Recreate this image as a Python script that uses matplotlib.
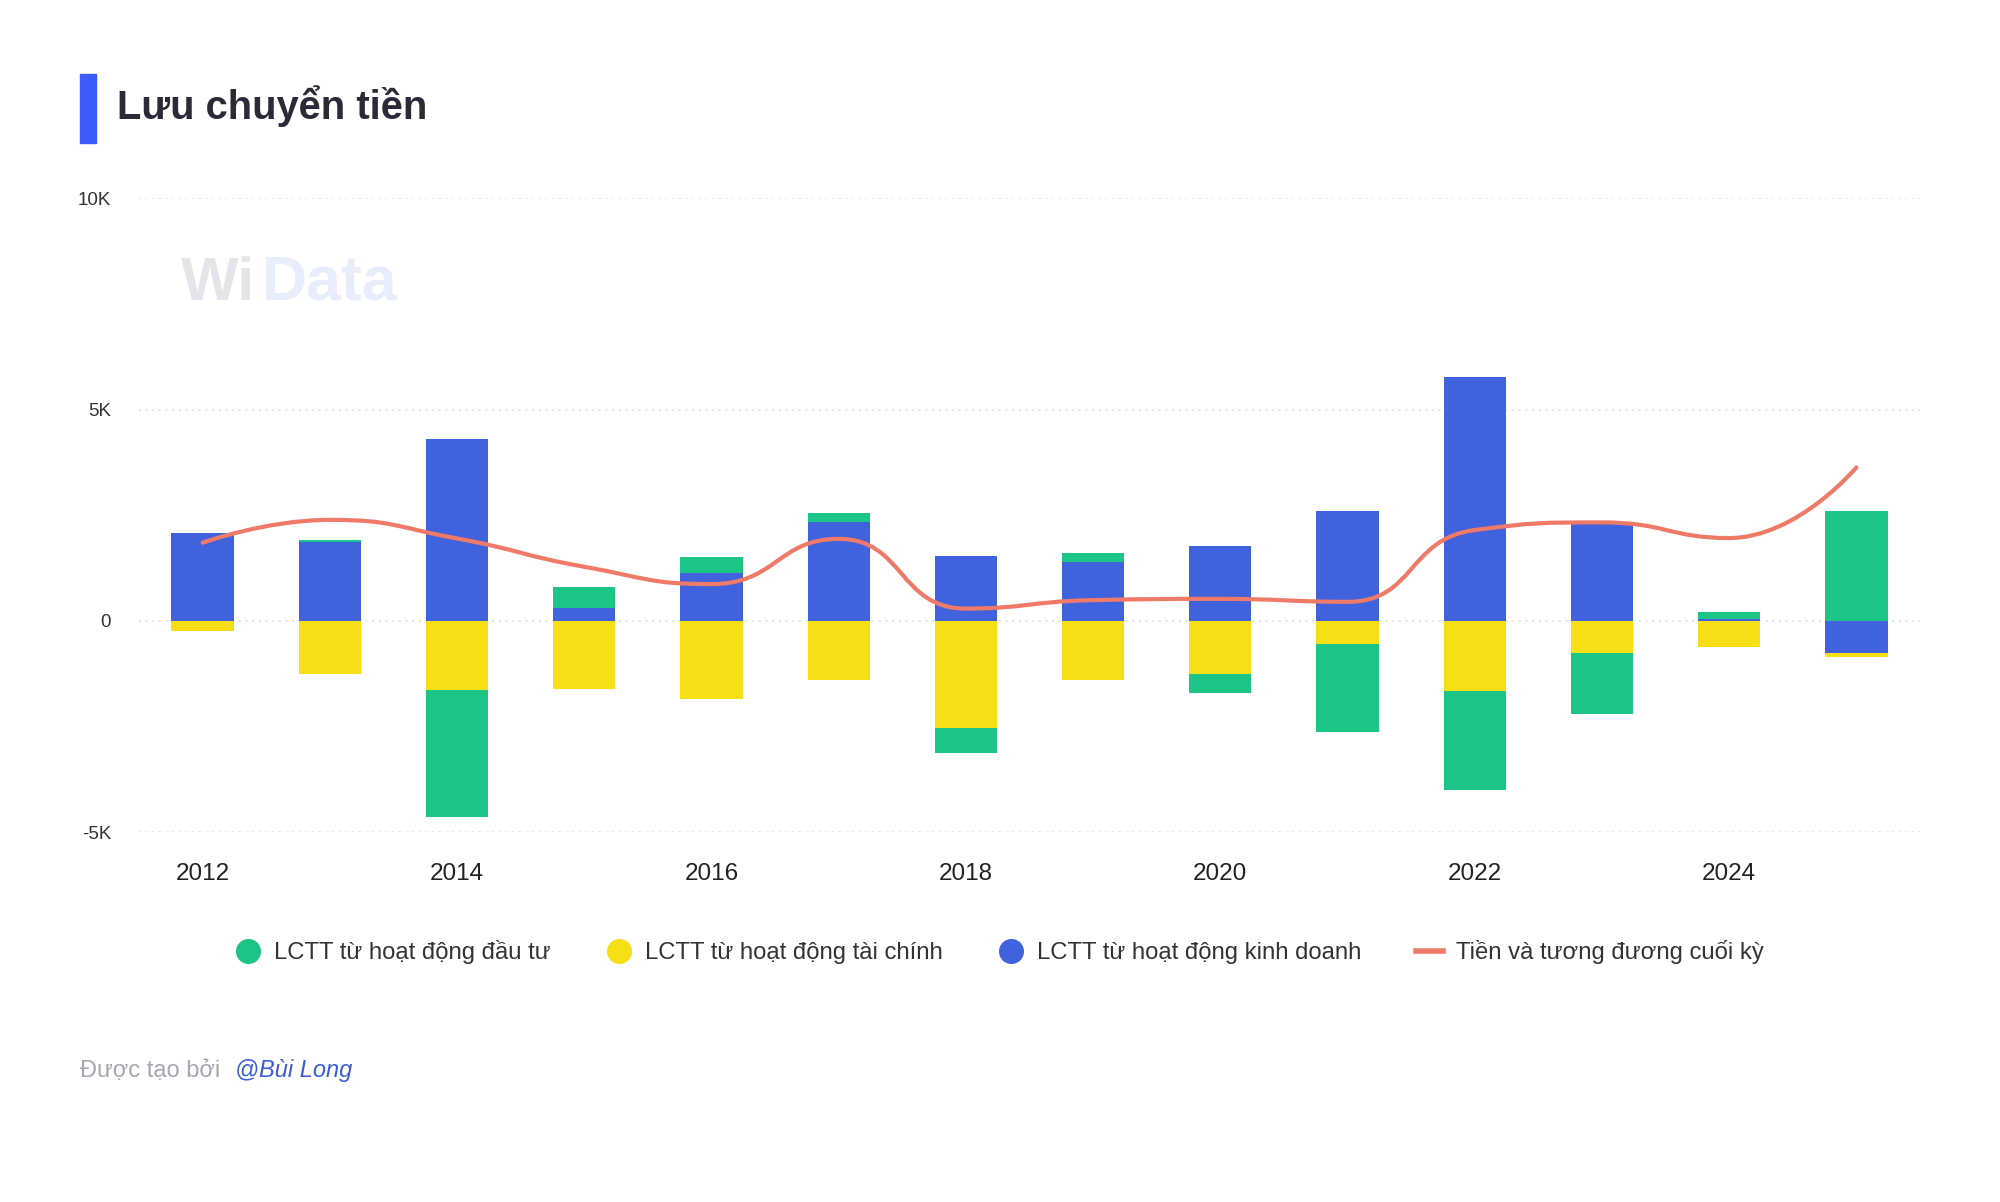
import matplotlib
matplotlib.use('Agg')
import matplotlib.pyplot as plt
from matplotlib.path import Path
from matplotlib.patches import PathPatch
from matplotlib.lines import Line2D
import numpy as np

plt.rcParams.update({'font.family': ['Liberation Sans', 'DejaVu Sans'],
                     'figure.dpi': 100, 'savefig.dpi': 100})

C_INV = '#1cc486'   # LCTT tu hoat dong dau tu
C_FIN = '#f6df15'   # LCTT tu hoat dong tai chinh
C_OPS = '#4062dc'   # LCTT tu hoat dong kinh doanh
C_CASH = '#ef7a68'  # Tien va tuong duong cuoi ky

years = [2012, 2013, 2014, 2015, 2016, 2017, 2018, 2019, 2020, 2021, 2022, 2023, 2024, 2025]
ops = [2070, 1870, 4310, 310, 1130, 2330, 1540, 1400, 1780, 2600, 5770, 2350, 40, -760]
fin = [-240, -1270, -1640, -1620, -1850, -1390, -2530, -1410, -1270, -560, -1650, -750, -620, -90]
inv = [0, 50, -3010, 500, 380, 220, -610, 200, -450, -2070, -2350, -1450, 170, 2600]
cash = [1850, 2390, 1950, 1280, 870, 1940, 290, 490, 520, 450, 2150, 2330, 1960, 3630]

labels = ['LCTT từ hoạt động đầu tư', 'LCTT từ hoạt động tài chính',
          'LCTT từ hoạt động kinh doanh', 'Tiền và tương đương cuối kỳ']

fig = plt.figure(figsize=(20, 12.02))
ax = fig.add_axes([0.0695, 0.3078, 0.8905, 0.5271])

x = np.arange(len(years))
bw = 0.49
pos_base = np.zeros(len(years))
neg_base = np.zeros(len(years))
# stacking order: kinh doanh, tai chinh, dau tu (positives and negatives stack apart)
for vals, col in [(ops, C_OPS), (fin, C_FIN), (inv, C_INV)]:
    v = np.array(vals, dtype=float)
    base = np.where(v >= 0, pos_base, neg_base)
    ax.bar(x, v, bw, bottom=base, color=col, linewidth=0, zorder=2)
    pos_base = pos_base + np.where(v > 0, v, 0)
    neg_base = neg_base + np.where(v < 0, v, 0)

ax.set_xlim(-0.5, len(years) - 0.5)
ax.set_ylim(-5000, 10000)

# smooth line, echarts-like bezier (smooth = 0.5, constrained) in pixel space
sx, sy = 127.2, 42.2 / 1000
px = x * sx
py = np.array(cash) * sy
sm = 0.5
n = len(px)
cin = [(px[0], py[0])] * n
cout = [(px[0], py[0])] * n
cin[n - 1] = (px[n - 1], py[n - 1])
for i in range(1, n - 1):
    X, Y = px[i], py[i]
    pX, pY = px[i - 1], py[i - 1]
    nX, nY = px[i + 1], py[i + 1]
    vx, vy = nX - pX, nY - pY
    l0 = np.hypot(X - pX, Y - pY)
    l1 = np.hypot(nX - X, nY - Y)
    r = l1 / (l0 + l1)
    ncx, ncy = X + vx * sm * r, Y + vy * sm * r
    ncx = max(min(ncx, max(nX, X)), min(nX, X))
    ncy = max(min(ncy, max(nY, Y)), min(nY, Y))
    vx, vy = ncx - X, ncy - Y
    c1x, c1y = X - vx * l0 / l1, Y - vy * l0 / l1
    c1x = max(min(c1x, max(pX, X)), min(pX, X))
    c1y = max(min(c1y, max(pY, Y)), min(pY, Y))
    vx, vy = X - c1x, Y - c1y
    ncx, ncy = X + vx * l1 / l0, Y + vy * l1 / l0
    cin[i] = (c1x, c1y)
    cout[i] = (ncx, ncy)
verts = [(px[0], py[0])]
codes = [Path.MOVETO]
for i in range(n - 1):
    verts += [cout[i], cin[i + 1], (px[i + 1], py[i + 1])]
    codes += [Path.CURVE4] * 3
verts = [(a / sx, b / sy) for a, b in verts]
ax.add_patch(PathPatch(Path(verts, codes), fill=False, edgecolor=C_CASH,
                       linewidth=3.0, capstyle='round', zorder=4))

for s in ax.spines.values():
    s.set_visible(False)
ax.set_yticks([-5000, 0, 5000, 10000])
ax.set_yticklabels(['-5K', '0', '5K', '10K'])
ax.set_xticks(x[::2])
ax.set_xticklabels([str(y) for y in years[::2]])
ax.tick_params(axis='y', length=0, pad=20, labelsize=13.5, labelcolor='#333333')
ax.tick_params(axis='x', length=0, pad=22, labelsize=17.5, labelcolor='#222222')
ax.grid(axis='y', color='#dcdcdc', linestyle=(0, (1, 3)), linewidth=1.2, zorder=0)
ax.set_axisbelow(True)

# title
fig.patches.append(plt.Rectangle((80 / 2000, 1 - 143 / 1202), 16 / 2000, 69 / 1202,
                                 transform=fig.transFigure, color='#3b5bfd'))
fig.text(117 / 2000, 1 - 106 / 1202, 'Lưu chuyển tiền', fontsize=28.7, fontweight='bold',
         color='#2b2b38', va='center', ha='left')

# watermark
fig.text(181 / 2000, 1 - 300 / 1202, 'Wi', fontsize=44, fontweight='bold',
         color='#e4e5eb', va='baseline', ha='left', zorder=0)
fig.text(262 / 2000, 1 - 300 / 1202, 'Data', fontsize=45, fontweight='bold',
         color='#e8edfb', va='baseline', ha='left', zorder=0)

# legend
handles = [Line2D([], [], marker='o', linestyle='none', markersize=17, color=C_INV),
           Line2D([], [], marker='o', linestyle='none', markersize=17, color=C_FIN),
           Line2D([], [], marker='o', linestyle='none', markersize=17, color=C_OPS),
           Line2D([], [], color=C_CASH, linewidth=4)]
fig.legend(handles, labels, loc='center', bbox_to_anchor=(0.4995, 1 - 952 / 1202),
           ncol=4, frameon=False, fontsize=17.2, handlelength=1.1, handletextpad=0.55,
           columnspacing=2.3, labelcolor='#333333')

# footer
fig.text(80 / 2000, 1 - 1071 / 1202, 'Được tạo bởi', fontsize=17, color='#a3a7b0',
         va='center', ha='left')
fig.text(235 / 2000, 1 - 1071 / 1202, '@Bùi Long', fontsize=17, color='#3b5bdb',
         style='italic', va='center', ha='left')

fig.savefig('out.png')
